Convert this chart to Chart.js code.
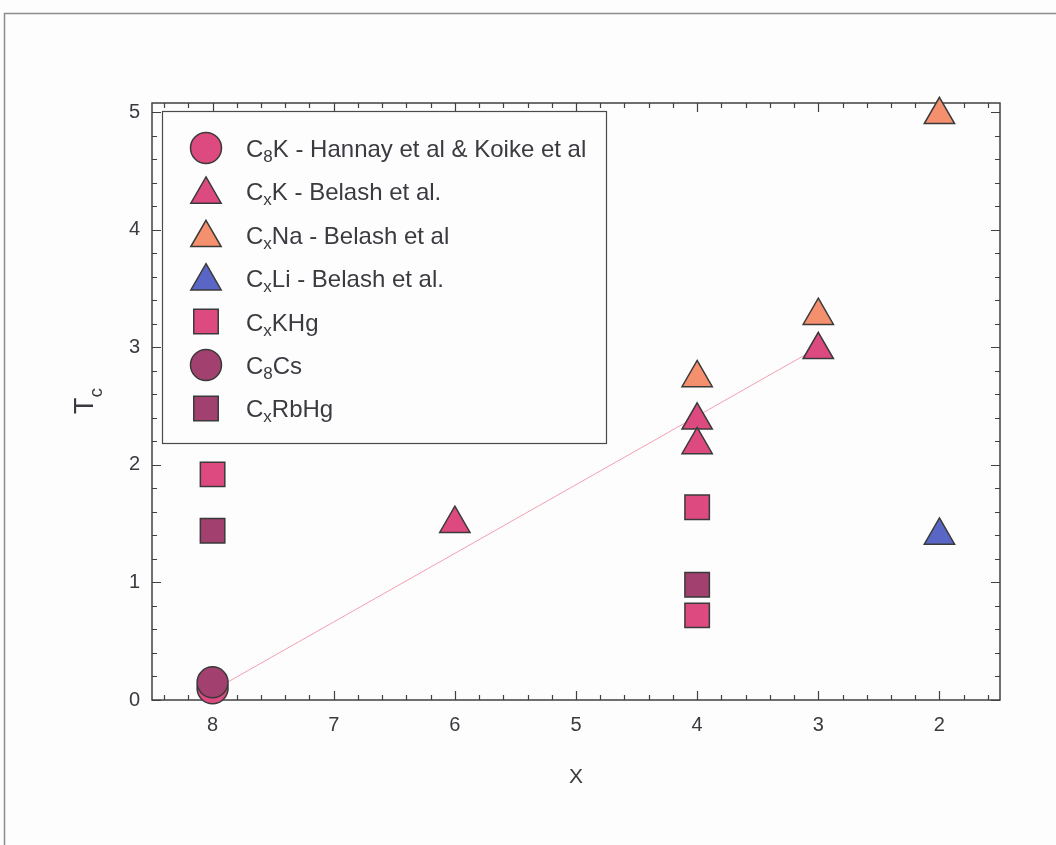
<!DOCTYPE html>
<html>
<head>
<meta charset="utf-8">
<title>Tc versus x</title>
<script src="https://cdn.jsdelivr.net/npm/chart.js@4.4.1/dist/chart.umd.min.js"></script>
<style>
  html, body { margin: 0; padding: 0; background: #fdfdfd; }
  #wrap { position: relative; width: 1056px; height: 845px; }
  canvas { display: block; }
</style>
</head>
<body>
<div id="wrap"><canvas id="chart" width="1056" height="845"></canvas></div>
<script>
// Superconducting transition temperature Tc of graphite intercalation compounds C_xM against x
const xTicks = [8, 7, 6, 5, 4, 3, 2];
const yTicks = [0, 1, 2, 3, 4, 5];

const c8kX = [8];             const c8kTc = [0.10];
const cxkX = [6, 4, 4, 3];    const cxkTc = [1.50, 2.38, 2.17, 2.98];
const cxnaX = [4, 3, 2];      const cxnaTc = [2.74, 3.27, 4.98];
const cxliX = [2];            const cxliTc = [1.40];
const cxkhgX = [8, 4, 4];     const cxkhgTc = [1.92, 1.64, 0.72];
const c8csX = [8];            const c8csTc = [0.15];
const cxrbhgX = [8, 4];       const cxrbhgTc = [1.44, 0.98];
const trendX = [8, 3];        const trendTc = [0.08, 3.0];

// legend text: [base, subscript, remainder]
const c8kName   = ['C', '8', 'K - Hannay et al & Koike et al'];
const cxkName   = ['C', 'x', 'K - Belash et al.'];
const cxnaName  = ['C', 'x', 'Na - Belash et al'];
const cxliName  = ['C', 'x', 'Li - Belash et al.'];
const cxkhgName = ['C', 'x', 'KHg'];
const c8csName  = ['C', '8', 'Cs'];
const cxrbhgName = ['C', 'x', 'RbHg'];

const FONT = '"Liberation Sans", Arial, Helvetica, sans-serif';
const INK = '#3a3a40';
const EDGE = '#3a3a3a';

const PINK = '#dd4a80';
const ORANGE = '#f4906e';
const BLUE = '#5a66c6';
const PLUM = '#a2416f';

const series = [
  { name: c8kName,    xs: c8kX,    ys: c8kTc,    style: 'circle',   color: PINK,   r: 15.5, order: 3 },
  { name: cxkName,    xs: cxkX,    ys: cxkTc,    style: 'triangle', color: PINK,   r: 17.5, order: 4 },
  { name: cxnaName,   xs: cxnaX,   ys: cxnaTc,   style: 'triangle', color: ORANGE, r: 17.5, order: 5 },
  { name: cxliName,   xs: cxliX,   ys: cxliTc,   style: 'triangle', color: BLUE,   r: 17.5, order: 6 },
  { name: cxkhgName,  xs: cxkhgX,  ys: cxkhgTc,  style: 'rect',     color: PINK,   r: 17.3, order: 7 },
  { name: c8csName,   xs: c8csX,   ys: c8csTc,   style: 'circle',   color: PLUM,   r: 15.5, order: 1 },
  { name: cxrbhgName, xs: cxrbhgX, ys: cxrbhgTc, style: 'rect',     color: PLUM,   r: 17.3, order: 2 }
];

const pts = (xs, ys) => xs.map((x, i) => ({ x: x, y: ys[i] }));

const datasets = series.map(s => ({
  label: s.name.join(''),
  data: pts(s.xs, s.ys),
  pointStyle: s.style,
  pointRadius: s.r,
  pointHoverRadius: s.r,
  backgroundColor: s.color,
  borderColor: EDGE,
  borderWidth: 1.5,
  hoverBorderWidth: 1.5,
  showLine: false,
  clip: false,
  order: s.order
}));

datasets.push({
  label: 'trend',
  data: pts(trendX, trendTc),
  showLine: true,
  borderColor: 'rgba(238, 130, 155, 0.75)',
  borderWidth: 1,
  pointRadius: 0,
  pointHoverRadius: 0,
  fill: false,
  clip: false,
  order: 20
});

// marker shape used in the legend box
function marker(ctx, style, x, y, r, fill) {
  ctx.save();
  ctx.fillStyle = fill;
  ctx.strokeStyle = EDGE;
  ctx.lineWidth = 1.5;
  ctx.beginPath();
  if (style === 'circle') {
    ctx.arc(x, y, r, 0, Math.PI * 2);
  } else if (style === 'triangle') {
    for (let k = 0; k < 3; k++) {
      const a = k * 2 * Math.PI / 3;
      const px = x + Math.sin(a) * r, py = y - Math.cos(a) * r;
      if (k === 0) ctx.moveTo(px, py); else ctx.lineTo(px, py);
    }
    ctx.closePath();
  } else {
    const h = r * Math.SQRT1_2;
    ctx.rect(x - h, y - h, 2 * h, 2 * h);
  }
  ctx.fill();
  ctx.stroke();
  ctx.restore();
}

function subText(ctx, parts, x, y, size, subSize, subDrop) {
  ctx.font = size + 'px ' + FONT;
  ctx.fillText(parts[0], x, y);
  x += ctx.measureText(parts[0]).width;
  ctx.font = subSize + 'px ' + FONT;
  ctx.fillText(parts[1], x, y + subDrop);
  x += ctx.measureText(parts[1]).width;
  ctx.font = size + 'px ' + FONT;
  ctx.fillText(parts[2], x, y);
}

const decor = {
  id: 'decor',
  beforeDraw(chart) {
    const ctx = chart.ctx;
    ctx.save();
    ctx.fillStyle = '#fdfdfd';
    ctx.fillRect(0, 0, chart.width, chart.height);
    // page frame
    ctx.strokeStyle = '#8c8c8c';
    ctx.lineWidth = 1.5;
    ctx.beginPath();
    ctx.moveTo(4.5, chart.height);
    ctx.lineTo(4.5, 13.5);
    ctx.lineTo(chart.width, 13.5);
    ctx.stroke();
    ctx.restore();
  },
  beforeDatasetsDraw(chart) {
    const ctx = chart.ctx;
    const a = chart.chartArea;
    const xs = chart.scales.x, ys = chart.scales.y;
    ctx.save();
    ctx.strokeStyle = '#404040';
    ctx.lineWidth = 1.5;
    ctx.strokeRect(a.left, a.top, a.right - a.left, a.bottom - a.top);
    ctx.lineWidth = 1.2;
    ctx.beginPath();
    // inward ticks every 0.2, longer at whole numbers
    for (let k = 0; k <= 50; k++) {
      const v = k / 5;
      if (v >= ys.min && v <= ys.max) {
        const p = Math.round(ys.getPixelForValue(v)) + 0.5;
        const len = k % 5 === 0 ? 9 : 5;
        ctx.moveTo(a.left, p); ctx.lineTo(a.left + len, p);
        ctx.moveTo(a.right, p); ctx.lineTo(a.right - len, p);
      }
      if (v > xs.min && v < xs.max) {
        const p = Math.round(xs.getPixelForValue(v)) + 0.5;
        const len = k % 5 === 0 ? 9 : 5;
        ctx.moveTo(p, a.bottom); ctx.lineTo(p, a.bottom - len);
        ctx.moveTo(p, a.top); ctx.lineTo(p, a.top + len);
      }
    }
    ctx.stroke();
    ctx.restore();
  },
  afterDraw(chart) {
    const ctx = chart.ctx;
    ctx.save();
    // legend box
    ctx.strokeStyle = '#4a4a4a';
    ctx.lineWidth = 1.2;
    ctx.strokeRect(162.5, 111.5, 444, 332);
    ctx.fillStyle = INK;
    ctx.textBaseline = 'alphabetic';
    ctx.textAlign = 'left';
    series.forEach((s, i) => {
      const cy = 148 + i * 43.4;
      const my = s.style === 'triangle' ? cy + 3 : cy;
      marker(ctx, s.style, 206, my, s.r, s.color);
      ctx.fillStyle = INK;
      subText(ctx, s.name, 246, cy + 9, 24, 17, 5);
    });
    // y axis title T_c
    ctx.translate(93, 414);
    ctx.rotate(-Math.PI / 2);
    ctx.font = '27px ' + FONT;
    ctx.fillText('T', 0, 0);
    const w = ctx.measureText('T').width;
    ctx.font = '19px ' + FONT;
    ctx.fillText('c', w, 9);
    ctx.restore();
  }
};

new Chart(document.getElementById('chart'), {
  type: 'scatter',
  data: { datasets: datasets },
  options: {
    responsive: false,
    animation: false,
    devicePixelRatio: 1,
    events: [],
    layout: { padding: { top: 103, right: 56, bottom: 0, left: 0 } },
    plugins: { legend: { display: false }, tooltip: { enabled: false } },
    scales: {
      x: {
        type: 'linear',
        reverse: true,
        min: 1.5,
        max: 8.5,
        afterBuildTicks: s => { s.ticks = xTicks.map(v => ({ value: v })); },
        afterFit: s => { s.height = 145; },
        grid: { display: false, drawTicks: false },
        border: { display: false },
        ticks: { font: { family: FONT, size: 20 }, color: INK, padding: 13, maxRotation: 0, autoSkip: false },
        title: { display: true, text: 'X', font: { family: FONT, size: 21 }, color: INK, padding: { top: 0, bottom: 55 } }
      },
      y: {
        type: 'linear',
        min: 0,
        max: 5.08,
        afterBuildTicks: s => { s.ticks = yTicks.map(v => ({ value: v })); },
        afterFit: s => { s.width = 152; },
        grid: { display: false, drawTicks: false },
        border: { display: false },
        ticks: { font: { family: FONT, size: 20 }, color: INK, padding: 12, autoSkip: false },
        title: { display: false }
      }
    }
  },
  plugins: [decor]
});
</script>
</body>
</html>
